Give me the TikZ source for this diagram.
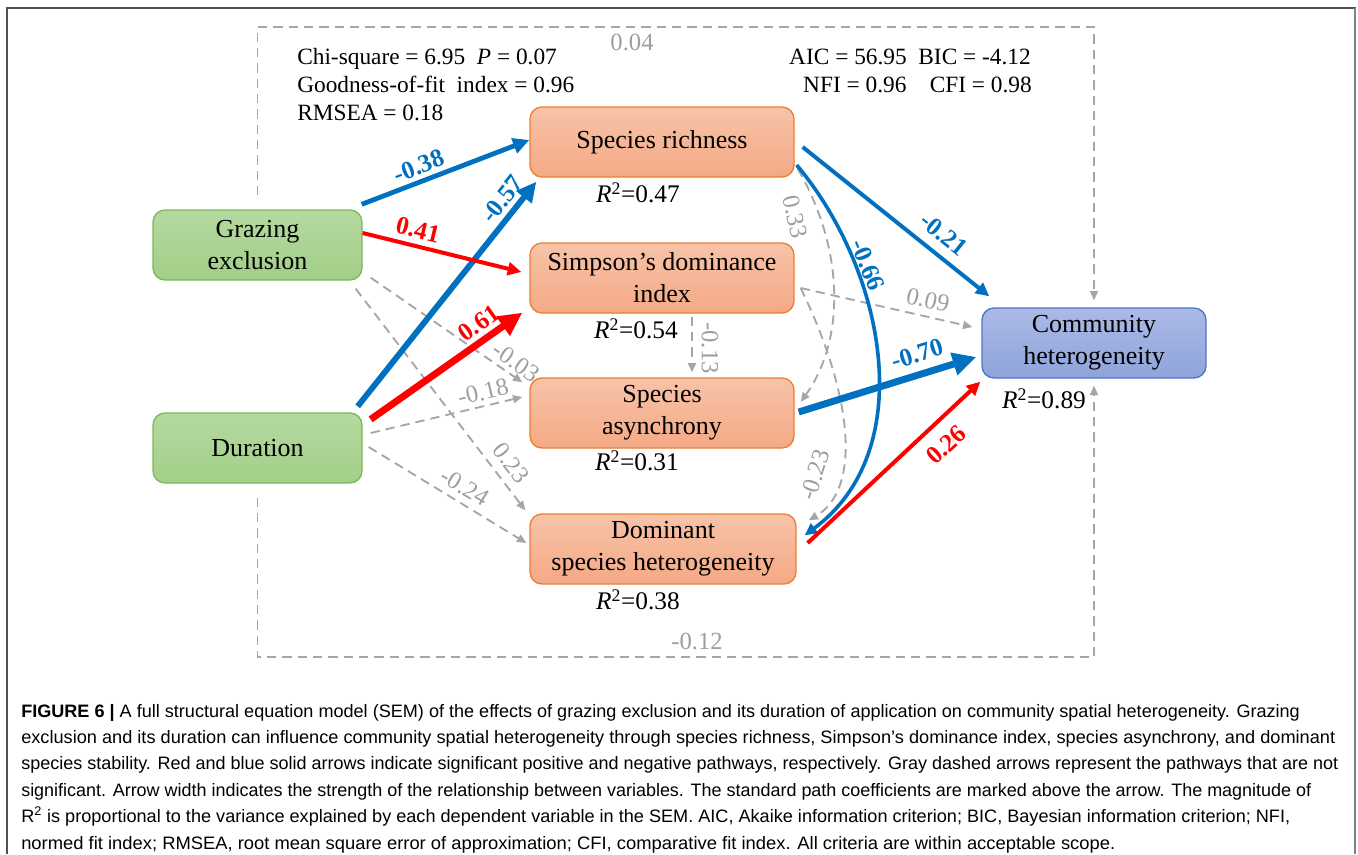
\documentclass[tikz,border=0pt]{standalone}
\usepackage{fontspec}
\usepackage{graphicx}
\setmainfont{Liberation Serif}
\newfontfamily\capfont{Liberation Sans}
\usetikzlibrary{arrows.meta,calc}
\definecolor{pblue}{HTML}{0070C0}
\definecolor{pred}{HTML}{FF0000}
\definecolor{pgray}{HTML}{A6A6A6}
\definecolor{lgray}{HTML}{9E9E9E}
\definecolor{gfillT}{HTML}{B5D9A0}
\definecolor{gfillB}{HTML}{A2CF88}
\definecolor{gline}{HTML}{7CB85A}
\definecolor{ofillT}{HTML}{F8C3A8}
\definecolor{ofillB}{HTML}{F4A985}
\definecolor{oline}{HTML}{ED7D31}
\definecolor{bfillT}{HTML}{ABB9E5}
\definecolor{bfillB}{HTML}{8FA4DB}
\definecolor{bline}{HTML}{4F75C8}
\definecolor{framec}{HTML}{505050}
\definecolor{framer}{HTML}{808080}
\tikzset{
 box/.style={draw, line width=1pt, rounded corners=9pt, align=center, inner sep=2pt, font=\fontsize{19.5}{24}\selectfont},
 gbox/.style={box, draw=gline, top color=gfillT, bottom color=gfillB, minimum width=156.75pt, minimum height=52.5pt},
 obox/.style={box, draw=oline, top color=ofillT, bottom color=ofillB, minimum width=198pt, minimum height=52.5pt},
 cbox/.style={box, draw=bline, top color=bfillT, bottom color=bfillB, minimum width=168pt, minimum height=52.5pt},
 sig/.style={line width=#1, -{Triangle[length=0pt 3.4, width=0pt 3.2]}},
 nsig/.style={pgray, line width=1.4pt, dash pattern=on 7pt off 4.5pt, -{Triangle[length=7pt, width=6pt]}},
 lab/.style={font=\bfseries\fontsize{19}{22}\selectfont, inner sep=0pt},
 glab/.style={lgray, font=\fontsize{18.5}{22}\selectfont, inner sep=0pt},
 rlab/.style={font=\fontsize{19}{22}\selectfont, inner sep=0pt},
 info/.style={font=\fontsize{17.5}{21}\selectfont, inner sep=0pt},
 capl/.style={font=\capfont\fontsize{13.5}{16}\selectfont, inner sep=0pt, anchor=base west},
 frameline/.style={framec, line width=1.6pt}
}
\begin{document}
\begin{tikzpicture}[x=0.75pt,y=-0.75pt]
\useasboundingbox (0,0) rectangle (1358,854);
% outer frame
\draw[frameline] (7,854) -- (7,8) -- (1356,8);
\draw[framer, line width=2pt] (1355,8) -- (1355,854);

% boxes
\node[gbox] (G) at (257.5,245) {Grazing\\exclusion};
\node[gbox] (D) at (257.5,448) {Duration};
\node[obox] (SR) at (662,142) {Species richness};
\node[obox] (SI) at (662,278) {Simpson’s dominance\\index};
\node[obox] (SA) at (662,413) {Species\\asynchrony};
\node[obox, minimum width=199.5pt] (DSH) at (663,549) {Dominant\\species heterogeneity};
\node[cbox] (CH) at (1094,343) {Community\\heterogeneity};

% R2 labels
\node[rlab] (r1) at (638,193) {\textit{R}\textsuperscript{2}=0.47};
\node[rlab] (r2) at (636,329) {\textit{R}\textsuperscript{2}=0.54};
\node[rlab] (r3) at (637,461) {\textit{R}\textsuperscript{2}=0.31};
\node[rlab] (r4) at (638,600) {\textit{R}\textsuperscript{2}=0.38};
\node[rlab] (r5) at (1044,399) {\textit{R}\textsuperscript{2}=0.89};

% fit statistics
\node[info, anchor=base west] (t1) at (297,64) {Chi-square = 6.95\enspace \textit{P} = 0.07};
\node[info, anchor=base west] (t2) at (297,92) {Goodness-of-fit\enspace index = 0.96};
\node[info, anchor=base west] (t3) at (297,120) {RMSEA = 0.18};
\node[info, anchor=base east] (t4) at (1031,64) {AIC = 56.95\enspace BIC = -4.12};
\node[info, anchor=base east] (t5) at (1032,92) {NFI = 0.96\quad CFI = 0.98};

% frame paths (non significant)
\coordinate (tl) at (257.5,27);
\coordinate (tr) at (1094,27);
\coordinate (bl) at (257.5,657);
\coordinate (br) at (1094,657);
\draw[nsig] ($(G.north)+(0,-14)$) -- (tl) -- (tr) -- ($(CH.north)+(0,-7)$);
\draw[nsig] ($(D.south)+(0,14)$) -- (bl) -- (br) -- ($(CH.south)+(0,7)$);
\node[glab] (l04) at (632,42) {0.04};
\node[glab] (l12) at (697,641) {-0.12};

% non significant dashed arrows
\draw[nsig] ($(G.south east)+(8,-3)$) -- ($(SA.north west)+(-7,5)$);
\draw[nsig] ($(G.south east)+(-7,8)$) -- ($(DSH.north west)+(-4,-3)$);
\draw[nsig] ($(D.east)+(8,-15)$) -- ($(SA.west)+(-7,-16)$);
\draw[nsig] ($(D.east)+(6,-1)$) -- ($(DSH.west)+(-3,-6)$);
\draw[nsig] ($(SI.east)+(6,10)$) -- ($(CH.west)+(-9,-16)$);
\draw[nsig] ($(SR.south east)+(3,-9)$) .. controls (845,250) and (845,340) .. ($(SA.east)+(6,-11)$);
\draw[nsig] ($(SI.south)+(30,3)$) -- ($(SA.north)+(30,-5)$);
\draw[nsig] ($(SI.east)+(6,10)$) .. controls (855,400) and (860,490) .. ($(DSH.north east)+(12,7)$);

\node[glab, rotate=-34.7] (l03) at (516,362) {-0.03};
\node[glab, rotate=-52.5] (l23) at (511,463) {0.23};
\node[glab, rotate=13.2] (l18) at (483,392) {-0.18};
\node[glab, rotate=-31.1] (l24) at (465,487) {-0.24};
\node[glab, rotate=-12.7] (l09) at (928,300) {0.09};
\node[glab, rotate=-78] (l33) at (795,217) {0.33};
\node[glab, rotate=-90] (l13) at (710,348) {-0.13};
\node[glab, rotate=72] (l23b) at (815,475) {-0.23};

% significant arrows
\draw[sig=3.6pt, pblue] ($(G.north east)+(-1,-5)$) -- ($(SR.west)+(0,-2)$);
\draw[sig=4.4pt, pblue] ($(D.north east)+(-5,-6)$) -- ($(SR.south west)+(7,4)$);
\draw[sig=3pt, pred] ($(G.east)+(0,-12)$) -- ($(SI.west)+(-8,-6)$);
\draw[sig=5.2pt, pred] ($(D.north east)+(8,7)$) -- ($(SI.south west)+(-7,-1)$);
\draw[sig=3pt, pblue] ($(SR.east)+(8,5)$) -- ($(CH.north west)+(8,-11)$);
\draw[sig=2.7pt, pblue] ($(SR.east)+(2,23)$) .. controls (885,270) and (920,450) .. ($(DSH.north east)+(8,22)$);
\draw[sig=5.2pt, pblue] ($(SA.east)+(4,-1)$) -- ($(CH.west)+(-5,14)$);
\draw[sig=3pt, pred] ($(DSH.east)+(11,-6)$) -- ($(CH.south west)+(-1,3)$);

\node[lab, pblue, rotate=21] (l38) at (419,166) {-0.38};
\node[lab, pblue, rotate=51.5] (l57) at (502,199) {-0.57};
\node[lab, pred, rotate=-13.7] (l41) at (418,230) {0.41};
\node[lab, pred, rotate=35.2] (l61) at (479,323) {0.61};
\node[lab, pblue, rotate=-38.6] (l21) at (944,234) {-0.21};
\node[lab, pblue, rotate=-68] (l66) at (868,265) {-0.66};
\node[lab, pblue, rotate=17.1] (l70) at (917,354) {-0.70};
\node[lab, pred, rotate=42] (l26) at (946,445) {0.26};

% caption
\node[capl] (c1) at (21,717) {\resizebox{959pt}{\height}{\textbf{FIGURE 6 |} A full structural equation model (SEM) of the effects of grazing exclusion and its duration of application on community spatial heterogeneity. Grazing}};
\node[capl] (c2) at (21,743.4) {\resizebox{985.5pt}{\height}{exclusion and its duration can influence community spatial heterogeneity through species richness, Simpson’s dominance index, species asynchrony, and dominant}};
\node[capl] (c3) at (21,769.8) {\resizebox{987.75pt}{\height}{species stability. Red and blue solid arrows indicate significant positive and negative pathways, respectively. Gray dashed arrows represent the pathways that are not}};
\node[capl] (c4) at (21,796.2) {\resizebox{967.5pt}{\height}{significant. Arrow width indicates the strength of the relationship between variables. The standard path coefficients are marked above the arrow. The magnitude of}};
\node[capl] (c5) at (21,822.6) {\resizebox{951.75pt}{\height}{R\textsuperscript{2} is proportional to the variance explained by each dependent variable in the SEM. AIC, Akaike information criterion; BIC, Bayesian information criterion; NFI,}};
\node[capl] (c6) at (21,849) {\resizebox{820.5pt}{\height}{normed fit index; RMSEA, root mean square error of approximation; CFI, comparative fit index. All criteria are within acceptable scope.}};
\end{tikzpicture}
\end{document}
